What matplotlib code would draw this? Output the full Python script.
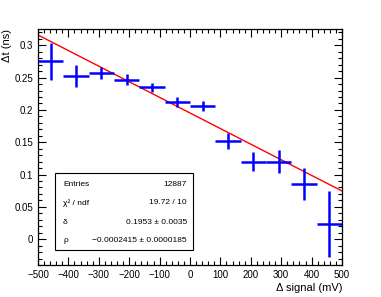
import numpy as np
import matplotlib
matplotlib.use("Agg")
import matplotlib.pyplot as plt
from matplotlib.ticker import MultipleLocator

plt.rcParams['font.family'] = ['Liberation Sans', 'DejaVu Sans']

# binned data: delta signal (mV) vs delta t (ns)
x_centers = [-458.3, -375.0, -291.7, -208.3, -125.0, -41.7, 41.7, 125.0, 208.3, 291.7, 375.0, 458.3]
x_halfwidth = [41.7] * 12
dt_vals = [0.275, 0.253, 0.257, 0.247, 0.235, 0.212, 0.206, 0.152, 0.120, 0.120, 0.085, 0.024]
dt_errs = [0.028, 0.017, 0.009, 0.008, 0.007, 0.008, 0.008, 0.012, 0.015, 0.018, 0.025, 0.051]

# fit parameters
delta = 0.1953
rho = -0.0002415
stats_labels = ["Entries", "\u03c7\u00b2 / ndf", "\u03b4", "\u03c1"]
stats_values = ["12887", "19.72 / 10", "0.1953 \u00b1 0.0035", "\u22120.0002415 \u00b1 0.0000185"]

fig = plt.figure(figsize=(3.81, 2.97), dpi=100)
ax = fig.add_axes([0.0997, 0.1077, 0.798, 0.794])

ax.errorbar(x_centers, dt_vals, xerr=x_halfwidth, yerr=dt_errs, fmt='o', ms=1.5, mew=0,
            color='#0000ff', ecolor='#0000ff', elinewidth=1.8, capsize=0, zorder=3)

xf = np.array([-500, 500])
ax.plot(xf, delta + rho * xf, color='#ff0000', lw=1.0, zorder=2)

ax.set_xlim(-500, 500)
ax.set_ylim(-0.04, 0.325)
ax.xaxis.set_major_locator(MultipleLocator(100))
ax.xaxis.set_minor_locator(MultipleLocator(20))
ax.yaxis.set_major_locator(MultipleLocator(0.05))
ax.yaxis.set_minor_locator(MultipleLocator(0.01))
ax.tick_params(which='both', direction='in', top=True, right=True, labelsize=7, width=0.8)
ax.tick_params(which='major', length=6)
ax.tick_params(which='minor', length=3)
ax.yaxis.set_major_formatter(plt.FuncFormatter(lambda v, p: ("%g" % round(v, 3)).replace('-', '\u2212')))
ax.xaxis.set_major_formatter(plt.FuncFormatter(lambda v, p: ("%g" % v).replace('-', '\u2212')))
for s in ax.spines.values():
    s.set_linewidth(0.9)

ax.set_xlabel("\u0394 signal (mV)", fontsize=8, loc='right', labelpad=2)
ax.set_ylabel("\u0394t (ns)", fontsize=8, loc='top', labelpad=2)

# stats box
bx0, by0, bx1, by1 = 55 / 381, 1 - 250 / 297, 193 / 381, 1 - 173 / 297
fig.patches.append(plt.Rectangle((bx0, by0), bx1 - bx0, by1 - by0, transform=fig.transFigure,
                                 facecolor='white', edgecolor='black', lw=0.8, zorder=5))
rows_y = [184, 203, 222, 240]
for lab, val, ry in zip(stats_labels, stats_values, rows_y):
    fig.text(bx0 + 8 / 381, 1 - ry / 297, lab, fontsize=6, va='center', ha='left', zorder=6)
    fig.text(bx1 - 6 / 381, 1 - ry / 297, val, fontsize=6, va='center', ha='right', zorder=6)

fig.savefig("out.png", dpi=100)
